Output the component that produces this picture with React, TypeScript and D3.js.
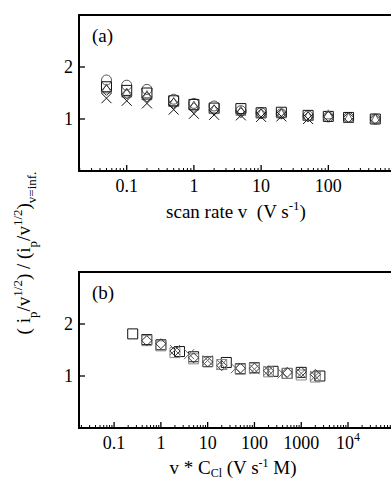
import * as d3 from "d3";

// panel (a): normalised peak current vs scan rate
const scanRate = [0.05, 0.1, 0.2, 0.5, 1, 2, 5, 10, 20, 50, 100, 200, 500];
const aCircle = [1.75, 1.65, 1.57, 1.38, 1.3, 1.25, 1.16, 1.12, 1.1, 1.06, 1.04, 1.03, 1.0];
const aSquare = [1.62, 1.55, 1.5, 1.35, 1.28, 1.21, 1.2, 1.12, 1.13, 1.07, 1.05, 1.03, 1.0];
const aTriangle = [1.58, 1.5, 1.45, 1.32, 1.25, 1.18, 1.15, 1.1, 1.1, 1.05, 1.08, 1.02, 1.0];
const aDiamond = [1.55, 1.48, 1.42, 1.3, 1.22, 1.17, 1.12, 1.1, 1.1, 1.04, 1.05, 1.03, 1.0];
const aCrossX = [0.05, 0.1, 0.2, 0.5, 1, 2, 5, 10, 20, 50];
const aCross = [1.4, 1.35, 1.3, 1.18, 1.1, 1.08, 1.07, 1.04, 1.05, 1.0];

// panel (b): same data vs v * C_Cl
const bSquareX = [0.25, 0.5, 1, 2.5, 5, 10, 25, 50, 100, 250, 500, 1000, 2500];
const bSquare = [1.81, 1.7, 1.6, 1.47, 1.37, 1.28, 1.26, 1.14, 1.16, 1.09, 1.05, 1.07, 1.0];
const bGrayX = [0.5, 1, 2, 5, 10, 20, 50, 100, 200, 500, 1000, 2000];
const bGray = [1.68, 1.58, 1.45, 1.33, 1.27, 1.22, 1.13, 1.15, 1.08, 1.05, 1.02, 0.98];
const bDiamondX = [0.5, 1, 2, 5, 10, 20, 50, 100, 200, 500, 1000, 2000];
const bDiamond = [1.68, 1.62, 1.48, 1.35, 1.27, 1.2, 1.15, 1.15, 1.1, 1.07, 1.08, 1.03];
const bCrossX = [2, 4, 10, 20, 40, 100, 200, 400, 1000, 2000];
const bCross = [1.5, 1.42, 1.3, 1.22, 1.15, 1.13, 1.1, 1.05, 1.05, 1.0];

const aTicks = [0.1, 1, 10, 100, 1000];
const aTickLabels = ["0.1", "1", "10", "100", ""];
const bTicks = [0.1, 1, 10, 100, 1000, 10000, 100000];
const bTickLabels = ["0.1", "1", "10", "100", "1000", "10^4", ""];
const yTicks = [1, 2];

const W = 391;
const H = 481;
const LEFT = 79;
const RIGHT = 414;
const FONT = "'Liberation Serif', 'Times New Roman', serif";

function markerPath(shape: string, r: number) {
  if (shape === "circle") return `M${r},0A${r},${r} 0 1 1 ${-r},0A${r},${r} 0 1 1 ${r},0Z`;
  if (shape === "square") return `M${-r},${-r}h${2 * r}v${2 * r}h${-2 * r}Z`;
  if (shape === "triangle") return `M0,${-r}L${r},${r * 0.8}L${-r},${r * 0.8}Z`;
  if (shape === "diamond") return `M0,${-r}L${r},0L0,${r}L${-r},0Z`;
  return `M${-r},${-r}L${r},${r}M${r},${-r}L${-r},${r}`;
}

type Series = { xs: number[]; ys: number[]; shape: string; color: string };

function Panel({ top, bottom, xScale, ticks, tickLabels, series, tag, title }: {
  top: number; bottom: number; xScale: d3.ScaleLogarithmic<number, number>;
  ticks: number[]; tickLabels: string[]; series: Series[]; tag: string; title: React.ReactNode;
}) {
  const y = d3.scaleLinear().domain([0, 3]).range([bottom, top]);
  const [d0, d1] = xScale.domain();
  const minor: number[] = [];
  for (let e = Math.floor(Math.log10(d0)); e <= Math.ceil(Math.log10(d1)); e++) {
    for (let m = 2; m <= 9; m++) {
      const v = m * Math.pow(10, e);
      if (v >= d0 && v <= d1) minor.push(v);
    }
  }
  return (
    <g>
      {minor.map((v, i) => (
        <line key={"m" + i} x1={xScale(v)} x2={xScale(v)} y1={bottom} y2={bottom - 3} stroke="#000" strokeWidth={1} />
      ))}
      {ticks.map((v, i) => (
        <g key={"t" + i}>
          <line x1={xScale(v)} x2={xScale(v)} y1={bottom} y2={bottom - 6} stroke="#000" strokeWidth={1.3} />
          {tickLabels[i] === "" ? null : tickLabels[i].startsWith("10^") ? (
            <text x={xScale(v)} y={bottom + 21} textAnchor="middle" fontSize={18} fontFamily={FONT}>
              10<tspan fontSize={12} dy={-8}>{tickLabels[i].slice(3)}</tspan>
            </text>
          ) : (
            <text x={xScale(v)} y={bottom + 21} textAnchor="middle" fontSize={18} fontFamily={FONT}>
              {tickLabels[i]}
            </text>
          )}
        </g>
      ))}
      {yTicks.map((v) => (
        <g key={"y" + v}>
          <line x1={LEFT} x2={LEFT + 6} y1={y(v)} y2={y(v)} stroke="#000" strokeWidth={1.3} />
          <text x={LEFT - 6} y={y(v) + 6} textAnchor="end" fontSize={18} fontFamily={FONT}>{v}</text>
        </g>
      ))}
      {series.map((s, si) =>
        s.xs.map((xv, i) => (
          <path key={si + "-" + i} d={markerPath(s.shape, 5)}
            transform={`translate(${xScale(xv)},${y(s.ys[i])})`}
            fill="none" stroke={s.color} strokeWidth={1} />
        ))
      )}
      <rect x={LEFT} y={top} width={RIGHT - LEFT} height={bottom - top} fill="none" stroke="#000" strokeWidth={2} />
      <text x={92} y={top + 27} fontSize={19} fontFamily={FONT}>{tag}</text>
      {title}
    </g>
  );
}

export default function App() {
  const xa = d3.scaleLog().domain([Math.pow(10, -1.71), Math.pow(10, 3.275)]).range([LEFT, RIGHT]);
  const xb = d3.scaleLog().domain([Math.pow(10, -1.75), Math.pow(10, 5.41)]).range([LEFT, RIGHT]);

  const seriesA: Series[] = [
    { xs: scanRate, ys: aCircle, shape: "circle", color: "#555" },
    { xs: scanRate, ys: aSquare, shape: "square", color: "#111" },
    { xs: scanRate, ys: aTriangle, shape: "triangle", color: "#666" },
    { xs: scanRate, ys: aDiamond, shape: "diamond", color: "#333" },
    { xs: aCrossX, ys: aCross, shape: "cross", color: "#111" },
  ];
  const seriesB: Series[] = [
    { xs: bSquareX, ys: bSquare, shape: "square", color: "#111" },
    { xs: bGrayX, ys: bGray, shape: "square", color: "#888" },
    { xs: bDiamondX, ys: bDiamond, shape: "diamond", color: "#333" },
    { xs: bCrossX, ys: bCross, shape: "cross", color: "#666" },
  ];

  return (
    <svg width={W} height={H} style={{ position: "absolute", left: 0, top: 0, background: "#fff" }}>
      <Panel top={15} bottom={171} xScale={xa} ticks={aTicks} tickLabels={aTickLabels} series={seriesA} tag="(a)"
        title={
          <text x={236} y={218} textAnchor="middle" fontSize={19} fontFamily={FONT}>
            scan rate v{"\u00a0\u00a0"}(V s<tspan fontSize={13} dy={-8}>-1</tspan><tspan dy={8}>)</tspan>
          </text>
        } />
      <Panel top={272} bottom={428} xScale={xb} ticks={bTicks} tickLabels={bTickLabels} series={seriesB} tag="(b)"
        title={
          <text x={233} y={474} textAnchor="middle" fontSize={19} fontFamily={FONT}>
            v * C<tspan fontSize={12} dy={3}>Cl</tspan><tspan dy={-3}> (V s</tspan>
            <tspan fontSize={12} dy={-7}>-1</tspan><tspan dy={7}> M)</tspan>
          </text>
        } />
      <text transform="translate(30,253) rotate(-90)" textAnchor="middle" fontSize={19} fontFamily={FONT}>
        ( i<tspan fontSize={13} dy={7}>p</tspan><tspan dy={-7}>/v</tspan>
        <tspan fontSize={13} dy={-8}>1/2</tspan><tspan dy={8}>) / (i</tspan>
        <tspan fontSize={13} dy={7}>p</tspan><tspan dy={-7}>/v</tspan>
        <tspan fontSize={13} dy={-8}>1/2</tspan><tspan dy={8}>)</tspan>
        <tspan fontSize={13} dy={6}>v=inf.</tspan>
      </text>
    </svg>
  );
}
